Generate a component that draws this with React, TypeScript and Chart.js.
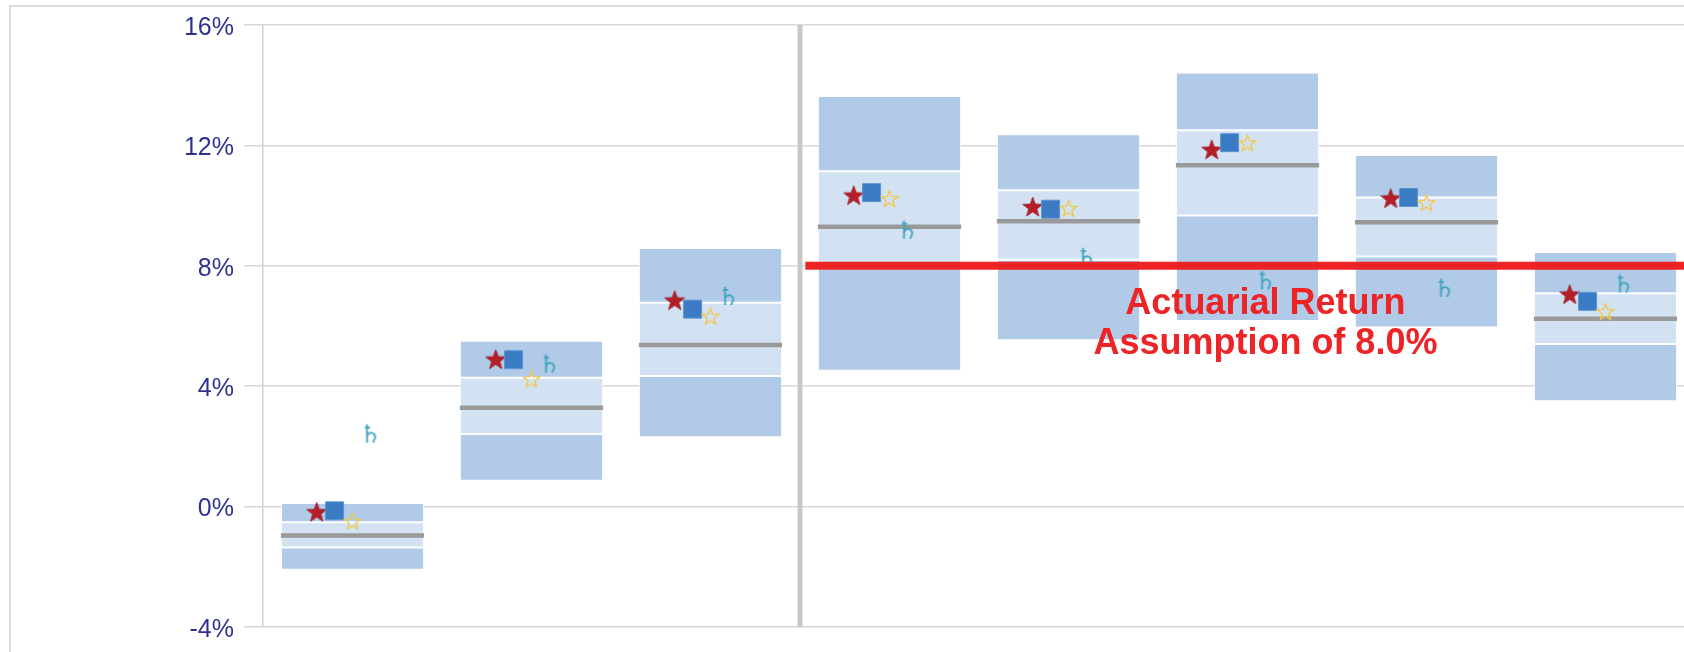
import React, { useEffect, useRef } from "react";
import { Chart, registerables } from "chart.js";

Chart.register(...registerables);

// ---- data ----
const categories = ["Cat 1", "Cat 2", "Cat 3", "Cat 4", "Cat 5", "Cat 6", "Cat 7", "Cat 8"];
const p95 = [0.12, 5.51, 8.59, 13.64, 12.37, 14.42, 11.68, 8.46];
const p75 = [-0.52, 4.28, 6.77, 11.14, 10.51, 12.5, 10.27, 7.09];
const median = [-0.96, 3.28, 5.37, 9.3, 9.48, 11.34, 9.45, 6.24];
const p25 = [-1.36, 2.41, 4.34, 7.92, 8.2, 9.67, 8.31, 5.4];
const p5 = [-2.1, 0.86, 2.3, 4.51, 5.53, 6.17, 5.95, 3.5];

const redStar = [-0.17, 4.9, 6.86, 10.35, 9.97, 11.87, 10.25, 7.06];
const blueSquare = [-0.14, 4.88, 6.56, 10.43, 9.88, 12.09, 10.27, 6.82];
const yellowStar = [-0.48, 4.24, 6.33, 10.24, 9.91, 12.09, 10.1, 6.48];
const saturn = [2.36, 4.68, 6.93, 9.13, 8.22, 7.45, 7.2, 7.34];

const yTicks = [-4, 0, 4, 8, 12, 16];
const actuarialReturn = 8.0;
const annotationLines = ["Actuarial Return", "Assumption of 8.0%"];
const separatorAfter = 2; // vertical divider after 3rd category

function makeStar(outer: number, inner: number, fill: string | null, stroke: string | null, lw: number) {
  const size = Math.ceil(outer * 2 + 4);
  const c = document.createElement("canvas");
  c.width = size;
  c.height = size;
  const ctx = c.getContext("2d")!;
  const cx = size / 2;
  const cy = size / 2 + outer * 0.1;
  ctx.beginPath();
  for (let i = 0; i < 10; i++) {
    const r = i % 2 === 0 ? outer : inner;
    const a = -Math.PI / 2 + (i * Math.PI) / 5;
    const px = cx + r * Math.cos(a);
    const py = cy + r * Math.sin(a);
    if (i === 0) ctx.moveTo(px, py);
    else ctx.lineTo(px, py);
  }
  ctx.closePath();
  if (fill) {
    ctx.fillStyle = fill;
    ctx.fill();
  }
  if (stroke) {
    ctx.strokeStyle = stroke;
    ctx.lineWidth = lw;
    ctx.stroke();
  }
  return c;
}

function makeGlyph(ch: string, color: string, px: number) {
  const c = document.createElement("canvas");
  c.width = 36;
  c.height = 36;
  const ctx = c.getContext("2d")!;
  ctx.fillStyle = color;
  ctx.font = `${px}px "DejaVu Sans", sans-serif`;
  ctx.textAlign = "center";
  ctx.textBaseline = "middle";
  ctx.fillText(ch, 18, 18);
  return c;
}

export default function App() {
  const ref = useRef<HTMLCanvasElement | null>(null);

  useEffect(() => {
    if (!ref.current) return;
    const redStarImg = makeStar(10.5, 4.3, "#B51D29", "#9e1a24", 0.8);
    const yellowStarImg = makeStar(8.5, 3.6, null, "#F3C744", 1.3);
    const saturnImg = makeGlyph("\u2644", "#3FA3BE", 25);

    const pts = (arr: number[], off: number) => arr.map((v, i) => ({ x: i + off, y: v }));

    const barCommon = {
      type: "bar" as const,
      grouped: false,
      categoryPercentage: 0.8,
      barPercentage: 1,
      borderColor: "rgba(255,255,255,0.9)",
      borderWidth: 1,
      borderSkipped: false,
      xAxisID: "x",
      order: 10,
    };

    const markerCommon = {
      type: "line" as const,
      showLine: false,
      xAxisID: "x2",
    };

    const annotationPlugin = {
      id: "annot",
      afterDatasetsDraw(chart: any) {
        const { ctx } = chart;
        const y = chart.scales.y;
        const x2 = chart.scales.x2;
        const cx = x2.getPixelForValue(5.1);
        const base = y.getPixelForValue(actuarialReturn);
        ctx.save();
        ctx.font = 'bold 36px "Liberation Sans", Arial, sans-serif';
        ctx.fillStyle = "#EE2326";
        ctx.textAlign = "center";
        ctx.textBaseline = "alphabetic";
        annotationLines.forEach((t, i) => ctx.fillText(t, cx, base + 48 + i * 40));
        ctx.restore();
      },
    };

    const chart = new Chart(ref.current, {
      type: "bar",
      data: {
        labels: categories,
        datasets: [
          { ...barCommon, label: "5th-25th", data: categories.map((_, i) => [p5[i], p25[i]]), backgroundColor: "#B1CAE7" } as any,
          { ...barCommon, label: "25th-75th", data: categories.map((_, i) => [p25[i], p75[i]]), backgroundColor: "#D2E2F3" } as any,
          { ...barCommon, label: "75th-95th", data: categories.map((_, i) => [p75[i], p95[i]]), backgroundColor: "#B1CAE7" } as any,
          {
            ...markerCommon,
            label: "Median",
            data: pts(median, 0),
            pointStyle: "line",
            pointRadius: 71.6,
            pointBorderWidth: 4.5,
            pointBorderColor: "#999999",
            order: 9,
          } as any,
          {
            type: "line",
            label: "Divider",
            xAxisID: "x2",
            data: [
              { x: separatorAfter + 0.5, y: yTicks[0] },
              { x: separatorAfter + 0.5, y: yTicks[yTicks.length - 1] },
            ],
            borderColor: "#C8C8C8",
            borderWidth: 5,
            pointRadius: 0,
            order: 8,
          } as any,
          {
            ...markerCommon,
            label: "Saturn",
            data: pts(saturn, 0.1),
            pointStyle: saturnImg,
            pointRadius: 10,
            order: 6,
          } as any,
          {
            ...markerCommon,
            label: "Red star",
            data: pts(redStar, -0.2),
            pointStyle: redStarImg,
            pointRadius: 10,
            order: 5,
          } as any,
          {
            ...markerCommon,
            label: "Square",
            data: pts(blueSquare, -0.1),
            pointStyle: "rect",
            pointRadius: 12.7,
            pointBackgroundColor: "#3A7BC4",
            pointBorderColor: "#5C92D0",
            pointBorderWidth: 1,
            order: 4,
          } as any,
          {
            ...markerCommon,
            label: "Yellow star",
            data: pts(yellowStar, 0),
            pointStyle: yellowStarImg,
            pointRadius: 9,
            order: 3,
          } as any,
          {
            type: "line",
            label: "Actuarial",
            xAxisID: "x2",
            data: [
              { x: separatorAfter + 0.53, y: actuarialReturn },
              { x: categories.length - 0.5, y: actuarialReturn },
            ],
            borderColor: "#EE2326",
            borderWidth: 8,
            borderCapStyle: "butt",
            pointRadius: 0,
            order: 1,
          } as any,
        ],
      },
      options: {
        responsive: false,
        animation: false,
        events: [],
        layout: { autoPadding: false, padding: { left: 0, top: 24, right: 5, bottom: 73 } },
        plugins: { legend: { display: false }, tooltip: { enabled: false } },
        scales: {
          x: { type: "category", display: false, offset: true, grid: { display: false } },
          x2: {
            type: "linear",
            display: false,
            offset: false,
            grid: { display: false, offset: false },
            min: -0.5,
            max: categories.length - 0.5,
          },
          y: {
            type: "linear",
            min: yTicks[0],
            max: yTicks[yTicks.length - 1],
            afterFit: (s: any) => {
              s.width = 263;
            },
            afterBuildTicks: (s: any) => {
              s.ticks = yTicks.map((v) => ({ value: v }));
            },
            ticks: {
              color: "#2E3192",
              padding: 10,
              labelOffset: 3,
              font: { family: '"Liberation Sans", Arial, sans-serif', size: 25 },
              callback: (v: any) => `${v}%`,
            },
            grid: { color: "#D6D6D6", lineWidth: 1.5, tickLength: 19, drawTicks: true },
            border: { display: true, color: "#D0D0D0", width: 1.5 },
          },
        },
      },
      plugins: [annotationPlugin],
    } as any);

    return () => chart.destroy();
  }, []);

  return (
    <div style={{ position: "absolute", left: 0, top: 0, width: 1684, height: 652, overflow: "hidden", background: "#fff" }}>
      <div
        style={{
          position: "absolute",
          left: 9,
          top: 5,
          width: 1800,
          height: 800,
          border: "2px solid #DCDCDC",
          boxSizing: "border-box",
        }}
      />
      <canvas ref={ref} width={1700} height={700} style={{ position: "absolute", left: 0, top: 0, width: 1700, height: 700 }} />
    </div>
  );
}
